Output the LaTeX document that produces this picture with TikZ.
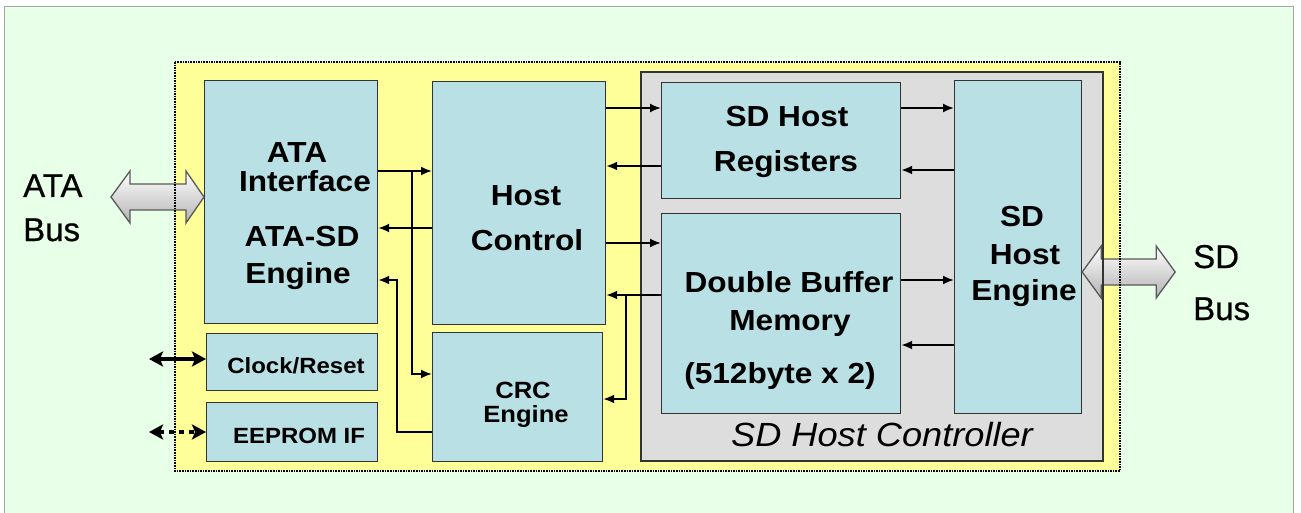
\documentclass[tikz,border=0pt]{standalone}
\usepackage{fontspec}
\setmainfont{Liberation Sans}
\newfontfamily\boxfont[FakeStretch=1.09]{Liberation Sans Bold}
\newfontfamily\busfont[FakeBold=0.6]{Liberation Sans}
\newfontfamily\ctrlfont[FakeStretch=1.08]{Liberation Sans Italic}
\usetikzlibrary{arrows.meta}
\definecolor{bggreen}{HTML}{E8FFE8}
\definecolor{bgyellow}{HTML}{FFFF99}
\definecolor{boxc}{HTML}{B9E0E4}
\definecolor{ctrlgray}{HTML}{DDDDDD}
\tikzset{
  box/.style={draw=black!80, line width=1.2pt, fill=boxc, inner sep=0pt, anchor=north west},
  arr/.style={line width=1.9pt, -{Latex[length=11pt,width=9pt]}},
  bigarr/.style={line width=3.5pt, {Stealth[length=14pt,width=15pt,inset=3pt]}-{Stealth[length=14pt,width=15pt,inset=3pt]}},
  blockarrow/.style={draw=black!65, line width=1.3pt, line join=miter, top color=white, bottom color=black!30},
  lbl/.style={anchor=base, inner sep=0pt, font=\boxfont\fontsize{29}{29}\selectfont},
  lblsm/.style={anchor=base, inner sep=0pt, font=\boxfont\fontsize{23.5}{23.5}\selectfont},
  lblxs/.style={anchor=base, inner sep=0pt, font=\boxfont\fontsize{22}{22}\selectfont},
  buslbl/.style={anchor=base west, inner sep=0pt, font=\busfont\fontsize{33}{33}\selectfont},
}
\begin{document}
\begin{tikzpicture}[x=1pt,y=-1pt]
\useasboundingbox (0,0) rectangle (1301,513);
% background
\fill[white] (0,0) rectangle (1301,513);
\fill[bggreen] (4,7) rectangle (1293,513);
\draw[black!35, line width=1pt] (4,513) -- (4,7) -- (1293,7) -- (1293,513);
% yellow chip area and gray controller area (fills)
\fill[bgyellow] (175,62) rectangle (1120,471);
\fill[ctrlgray] (641,72) rectangle (1103,461);

% blocks
\node[box, minimum width=173pt, minimum height=243pt] (ata) at (204,80) {};
\node[box, minimum width=171pt, minimum height=57pt] (clk) at (206,333) {};
\node[box, minimum width=171pt, minimum height=59pt] (eep) at (206,402) {};
\node[box, minimum width=173pt, minimum height=243pt] (hc) at (432,81) {};
\node[box, minimum width=170pt, minimum height=129pt] (crc) at (432,332) {};
\node[box, minimum width=239pt, minimum height=116pt] (reg) at (661,82) {};
\node[box, minimum width=239pt, minimum height=200pt] (dbm) at (661,213) {};
\node[box, minimum width=127pt, minimum height=333pt] (eng) at (954,80) {};

% block bus arrows
\draw[blockarrow, shift={(ata.west |- 0,197)}]
  (-93,0) -- (-74,-26) -- (-74,-13) -- (-18,-13) -- (-18,-26) -- (0,0)
  -- (-18,26) -- (-18,13) -- (-74,13) -- (-74,26) -- cycle;
\draw[blockarrow, shift={(eng.east |- 0,272)}]
  (0,0) -- (19,-26) -- (19,-13) -- (74,-13) -- (74,-26) -- (93,0)
  -- (74,26) -- (74,13) -- (19,13) -- (19,26) -- cycle;

% borders of the chip and controller areas
\draw[black, line width=1.6pt, dash pattern=on 1.6pt off 1pt] (175,62) rectangle (1120,471);
\draw[black!80, line width=1.2pt] (641,72) rectangle (1103,461);

% connectors
\coordinate (j1) at (412,171);
\draw[arr] (ata.east |- j1) -- (hc.west |- j1);
\draw[arr] (j1) |- (crc.west |- 0,374);
\draw[arr] (hc.west |- 0,228) -- (ata.east |- 0,228);
\draw[arr] (crc.west |- 0,432) -| (397,280) -- (ata.east |- 0,280);

\draw[arr] (hc.east |- 0,108) -- (reg.west |- 0,108);
\draw[arr] (reg.west |- 0,166) -- (hc.east |- 0,166);
\draw[arr] (hc.east |- 0,243) -- (dbm.west |- 0,243);
\coordinate (j2) at (626,295);
\draw[arr] (dbm.west |- j2) -- (hc.east |- j2);
\draw[arr] (j2) |- (crc.east |- 0,399);

\draw[arr] (reg.east |- 0,108) -- (eng.west |- 0,108);
\draw[arr] (eng.west |- 0,170) -- (reg.east |- 0,170);
\draw[arr] (dbm.east |- 0,280) -- (eng.west |- 0,280);
\draw[arr] (eng.west |- 0,345) -- (dbm.east |- 0,345);

\coordinate (clkL) at (149,359);
\draw[bigarr] (clkL) -- (clk.west |- clkL);
\coordinate (eepL) at (149,432);
\draw[bigarr, dash pattern=on 5pt off 5pt] (eepL) -- (eep.west |- eepL);

% texts
\node[buslbl] (atabus1) at (23,197) {ATA};
\node[buslbl] (atabus2) at (23,241) {Bus};
\node[buslbl] (sdbus1) at (1193,268) {SD};
\node[buslbl] (sdbus2) at (1193,320) {Bus};

\node[lbl] (t1) at (297,163) {ATA};
\node[lbl] (t2) at (305,192) {Interface};
\node[lbl] (t3) at (302,247) {ATA-SD};
\node[lbl] (t4) at (298,283) {Engine};

\node[lbl] (t5) at (526,206) {Host};
\node[lbl] (t6) at (527,251) {Control};

\node[lbl] (t7) at (787,127) {SD Host};
\node[lbl] (t8) at (786,172) {Registers};

\node[lbl] (t9) at (789,292) {Double Buffer};
\node[lbl] (t10) at (790,330) {Memory};
\node[lbl] (t11) at (780,383) {(512byte x 2)};

\node[lbl] (t12) at (1022,227) {SD};
\node[lbl] (t13) at (1025,264) {Host};
\node[lbl] (t14) at (1024,300) {Engine};

\node[lblsm] (t15) at (523,398) {CRC};
\node[lblsm] (t16) at (526,422) {Engine};

\node[lblxs] (t17) at (296,373) {Clock/Reset};
\node[lblxs] (t18) at (299,443) {EEPROM IF};

\node[anchor=base west, inner sep=0pt, font=\ctrlfont\fontsize{33.5}{33.5}\selectfont] (t19) at (731,446) {SD Host Controller};
\end{tikzpicture}
\end{document}
